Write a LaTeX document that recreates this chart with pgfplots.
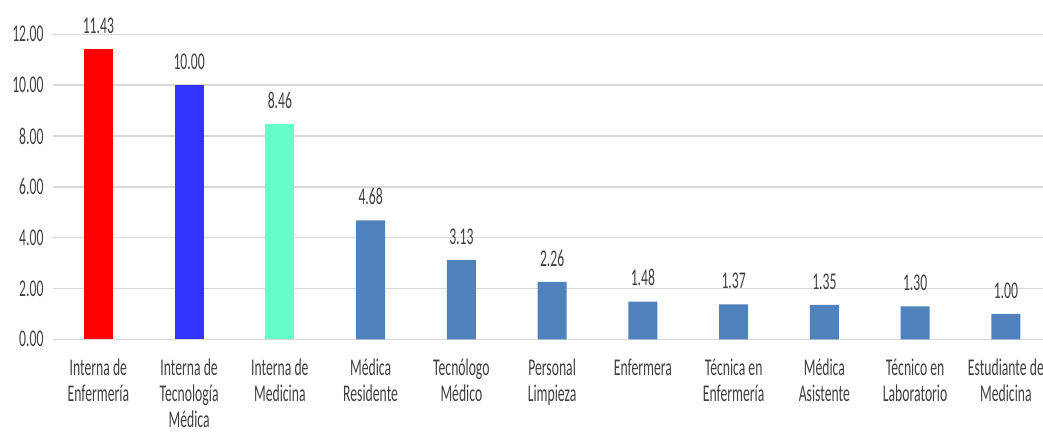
\documentclass[border=0pt]{standalone}
\usepackage{pgfplots}
\pgfplotsset{compat=1.18}
\usepackage{fontspec}
\setmainfont{Carlito}[FakeStretch=0.57]
\definecolor{txt}{RGB}{64,64,64}
\definecolor{gridc}{RGB}{217,217,217}
\definecolor{cred}{RGB}{255,0,0}
\definecolor{cblue}{RGB}{51,51,255}
\definecolor{cteal}{RGB}{102,255,204}
\definecolor{csteel}{RGB}{79,129,189}
\begin{document}
\begin{tikzpicture}
\useasboundingbox (0,0) rectangle (1043pt,432pt);
\clip (0,0) rectangle (1043pt,432pt);
\begin{axis}[
    at={(53pt,92.7pt)}, anchor=origin,
    scale only axis,
    width=998.25pt, height=305pt,
    xmin=0.5, xmax=11.5,
    ymin=0, ymax=12,
    ybar, bar width=29pt, bar shift=0pt,
    axis line style={draw=none},
    xtick={1,...,11},
    xticklabels={{Interna de\\Enfermería},{Interna de\\Tecnología\\Médica},{Interna de\\Medicina},{Médica\\Residente},{Tecnólogo\\Médico},{Personal\\Limpieza},{Enfermera},{Técnica en\\Enfermería},{Médica\\Asistente},{Técnico en\\Laboratorio},{Estudiante de\\Medicina}},
    x tick label style={align=center, font=\fontsize{24}{26}\selectfont, text=txt, yshift=-12pt},
    xtick style={draw=none},
    ytick={0,2,...,12},
    yticklabel style={/pgf/number format/fixed, /pgf/number format/fixed zerofill, /pgf/number format/precision=2, /pgf/number format/assume math mode=true, font=\fontsize{24}{27}\selectfont, text=txt, xshift=-6pt},
    ytick style={draw=none},
    ymajorgrids=true,
    grid style={gridc, line width=1.6pt},
    nodes near coords,
    nodes near coords style={/pgf/number format/fixed, /pgf/number format/fixed zerofill, /pgf/number format/precision=2, /pgf/number format/assume math mode=true, font=\fontsize{24}{27}\selectfont, text=txt, yshift=12pt},
    clip=false,
]
\addplot[fill=cred, draw=none] coordinates {(1,11.43)};
\addplot[fill=cblue, draw=none] coordinates {(2,10.00)};
\addplot[fill=cteal, draw=none] coordinates {(3,8.46)};
\addplot[fill=csteel, draw=none] coordinates {
    (4,4.68) (5,3.13) (6,2.26) (7,1.48) (8,1.37) (9,1.35) (10,1.30) (11,1.00)
};
\end{axis}
\end{tikzpicture}
\end{document}
